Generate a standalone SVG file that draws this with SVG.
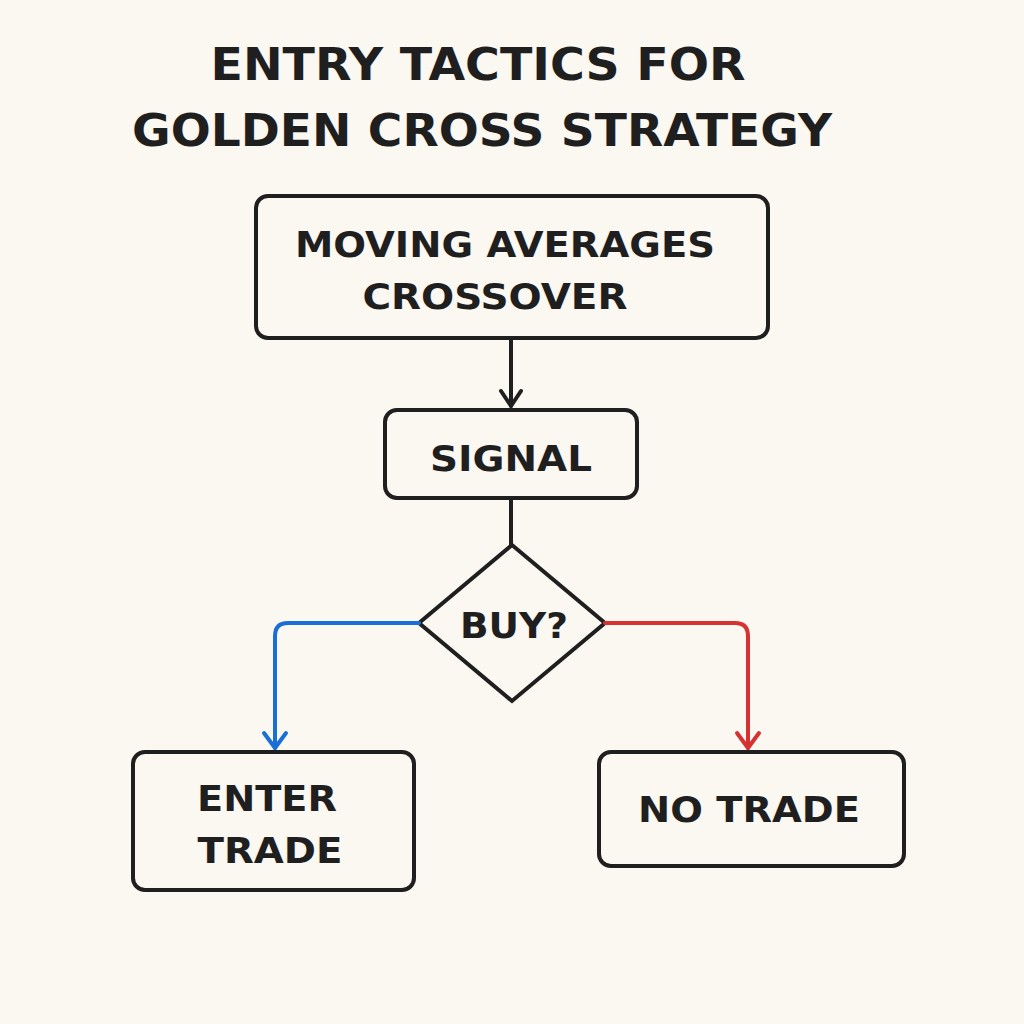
<svg xmlns="http://www.w3.org/2000/svg" width="1024" height="1024" viewBox="0 0 1024 1024">
<defs>
<style>
.box{fill:none;stroke:#1f1f1f;stroke-width:4}
.t{font-family:"DejaVu Sans","Liberation Sans",sans-serif;font-weight:bold;fill:#1f1f1f;text-anchor:middle}
.c{fill:none;stroke-width:4;stroke-linecap:round;stroke-linejoin:round}
</style>
</defs>
<rect width="1024" height="1024" fill="#fbf7f1"/>
<text class="t" x="478" y="80" font-size="44" textLength="535" lengthAdjust="spacingAndGlyphs">ENTRY TACTICS FOR</text>
<text class="t" x="482" y="146" font-size="44" textLength="700" lengthAdjust="spacingAndGlyphs">GOLDEN CROSS STRATEGY</text>
<g id="n1"><rect class="box" x="256" y="196" width="512" height="142" rx="12"/>
<text class="t" x="505" y="257" font-size="36" textLength="420" lengthAdjust="spacingAndGlyphs">MOVING AVERAGES</text><text class="t" x="495" y="309" font-size="36" textLength="265" lengthAdjust="spacingAndGlyphs">CROSSOVER</text></g>
<g id="n2"><rect class="box" x="385" y="410" width="252" height="88" rx="12"/>
<text class="t" x="511" y="471" font-size="36" textLength="162" lengthAdjust="spacingAndGlyphs">SIGNAL</text></g>
<g id="n3"><polygon class="box" points="512,545 605,623 512,701 419,623"/>
<text class="t" x="514" y="638" font-size="36" textLength="108" lengthAdjust="spacingAndGlyphs">BUY?</text></g>
<g id="n4"><rect class="box" x="133" y="752" width="281" height="138" rx="12"/>
<text class="t" x="267" y="811" font-size="36" textLength="140" lengthAdjust="spacingAndGlyphs">ENTER</text><text class="t" x="270" y="863" font-size="36" textLength="145" lengthAdjust="spacingAndGlyphs">TRADE</text></g>
<g id="n5"><rect class="box" x="599" y="752" width="305" height="114" rx="12"/>
<text class="t" x="749" y="822" font-size="36" textLength="222" lengthAdjust="spacingAndGlyphs">NO TRADE</text></g>
<g id="edges">
<path class="c" stroke="#1f1f1f" d="M511 340 V406"/>
<path class="c" stroke="#1f1f1f" d="M501 391 L511 406 L521 391"/>
<path class="c" stroke="#1f1f1f" d="M511 500 V545"/>
<path class="c" stroke="#1a6fd6" d="M419 623 H288 Q275 623 275 636 V748"/>
<path class="c" stroke="#d63232" d="M605 623 H735 Q748 623 748 636 V748"/>
<path class="c" stroke="#1a6fd6" d="M264 733 L275 748 L286 733"/>
<path class="c" stroke="#d63232" d="M737 733 L748 748 L759 733"/>
</g>
</svg>
